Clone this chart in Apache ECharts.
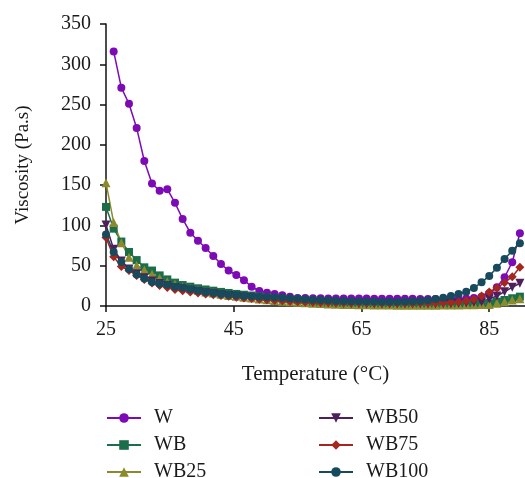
<!DOCTYPE html>
<html>
<head>
<meta charset="utf-8">
<script src="https://cdn.jsdelivr.net/npm/echarts@6/dist/echarts.min.js"></script>
<style>
  html, body { margin: 0; padding: 0; background: #fff; }
  #container { width: 525px; height: 478px; }
</style>
</head>
<body>
<div id="container"></div>
<script>
var dom = document.getElementById('container');
var myChart = echarts.init(dom, null, { renderer: 'canvas' });

// temperature (°C) of each reading
const temps = [
  25.0, 26.2, 27.4, 28.6, 29.8, 31.0, 32.2, 33.4, 34.6, 35.8,
  37.0, 38.2, 39.4, 40.6, 41.8, 43.0, 44.2, 45.4, 46.6, 47.8,
  49.0, 50.2, 51.4, 52.6, 53.8, 55.0, 56.2, 57.4, 58.6, 59.8,
  61.0, 62.2, 63.4, 64.6, 65.8, 67.0, 68.2, 69.4, 70.6, 71.8,
  73.0, 74.2, 75.4, 76.6, 77.8, 79.0, 80.2, 81.4, 82.6, 83.8,
  85.0, 86.2, 87.4, 88.6, 89.8
];

// viscosity (Pa.s)
const W = [
  null, 316, 271, 251, 221, 180, 152, 143, 145, 128,
  108, 91, 81, 72, 62, 52, 44, 38.5, 32, 24,
  18.6, 16.5, 15, 13.3, 11.6, 10, 9.8, 9.6, 9.5, 9.4,
  9.4, 9.3, 9.3, 9.2, 9.2, 9.1, 9.1, 9.0, 9.0, 8.9,
  8.9, 8.8, 8.8, 8.8, 8.8, 8.9, 9.0, 9.3, 10, 11.6,
  15.8, 23.2, 35.7, 54.3, 90.3
];
const WB = [
  123, 96, 80, 67, 57, 48, 44, 38, 33, 29,
  26, 24, 22, 20.5, 19, 17.5, 16.2, 15, 14, 13,
  12, 11, 10, 9, 8.2, 7.4, 6.7, 6, 5.4, 4.8,
  4.3, 3.8, 3.4, 3.0, 2.7, 2.4, 2.2, 2.0, 1.8, 1.7,
  1.6, 1.5, 1.5, 1.5, 1.6, 1.7, 1.9, 2.2, 2.6, 3.0,
  3.4, 5.4, 7.5, 9.6, 11.6
];
const WB25 = [
  153, 103.5, 78.6, 60.5, 50.6, 44.7, 39.4, 34.4, 30, 27,
  24, 21.5, 19.5, 17.5, 16, 14.5, 13, 12, 10.8, 9.8,
  8.8, 7.8, 6.9, 6, 5.2, 4.5, 3.9, 3.4, 3.0, 2.6,
  2.3, 2.0, 1.8, 1.6, 1.4, 1.3, 1.2, 1.1, 1.0, 1.0,
  1.0, 1.0, 1.0, 1.0, 1.1, 1.2, 1.3, 1.5, 1.7, 1.9,
  2.0, 3.4, 5.4, 7.5, 9.0
];
const WB50 = [
  100.6, 70.4, 56, 46, 40, 35, 31, 28, 25.5, 23,
  21, 19.5, 18, 16.5, 15.2, 14, 13, 12, 11, 10,
  9, 8.2, 7.4, 6.7, 6, 5.4, 4.9, 4.4, 4.0, 3.6,
  3.3, 3.0, 2.8, 2.7, 2.6, 2.5, 2.5, 2.4, 2.4, 2.4,
  2.4, 2.4, 2.5, 2.6, 2.7, 2.8, 3.2, 3.7, 4.3, 5.0,
  8.7, 12.4, 17.8, 23.2, 28.2
];
const WB75 = [
  85, 61, 49, 44, 38, 33, 28.5, 25.5, 23, 20.5,
  19, 17.5, 16.2, 15, 14, 13, 12, 11, 10, 9.2,
  8.5, 7.8, 7.2, 6.6, 6.0, 5.5, 5.0, 4.7, 4.4, 4.2,
  4.0, 3.9, 3.8, 3.7, 3.6, 3.6, 3.5, 3.5, 3.5, 3.5,
  3.5, 3.6, 3.7, 3.8, 4.2, 4.6, 5.0, 6.6, 8.3, 12.4,
  17.4, 22.4, 29, 36.4, 48
];
const WB100 = [
  88.6, 67, 54.7, 46, 39, 34, 29.8, 27.7, 26.5, 24,
  22.7, 20.7, 19, 17.4, 16.1, 14.9, 14, 13.3, 12.4, 12,
  11.6, 11.2, 10.8, 10.3, 9.6, 9, 8.4, 7.9, 7.4, 7.0,
  6.6, 6.3, 6.0, 5.8, 5.6, 5.5, 5.4, 5.4, 5.4, 5.5,
  5.8, 6.3, 7.2, 8.7, 10.3, 12.4, 14.9, 17.8, 22.4, 29.4,
  37.3, 47.6, 58.4, 68.7, 77.9
];

const names = ['W', 'WB', 'WB25', 'WB50', 'WB75', 'WB100'];
const values = [W, WB, WB25, WB50, WB75, WB100];
const colors = ['#7d0bb5', '#1c6e4b', '#8b8a2c', '#4f1f5c', '#a3271f', '#184a5e'];
const symbols = ['circle', 'rect', 'triangle', 'triangle', 'diamond', 'circle'];
const rotates = [0, 0, 0, 180, 0, 0];
const sizes = [8, 8, 9, 9, 9, 8];

const font = 'Liberation Serif';

var series = names.map(function (name, k) {
  return {
    name: name,
    type: 'line',
    data: temps.map(function (t, i) { return [t, values[k][i]]; }),
    symbol: symbols[k],
    symbolRotate: rotates[k],
    symbolSize: sizes[k],
    showAllSymbol: true,
    connectNulls: false,
    itemStyle: { color: colors[k] },
    lineStyle: { color: colors[k], width: 1.5 },
    animation: false
  };
});

var legendBase = {
  orient: 'vertical',
  top: 403,
  height: 120,
  itemWidth: 34,
  itemHeight: 12,
  itemGap: 7,
  textStyle: { fontFamily: font, fontSize: 20, lineHeight: 20, color: '#1a1a1a', padding: [0, 0, 0, 8] }
};

var option = {
  backgroundColor: '#fff',
  animation: false,
  grid: { left: 106, right: -2, top: 24, bottom: 172 },
  legend: [
    Object.assign({}, legendBase, { left: 101, data: names.slice(0, 3) }),
    Object.assign({}, legendBase, { left: 313, data: names.slice(3) })
  ],
  xAxis: {
    type: 'value',
    min: 25,
    max: 90.6,
    interval: 20,
    name: 'Temperature (°C)',
    nameLocation: 'middle',
    nameGap: 58,
    nameTextStyle: { fontFamily: font, fontSize: 21, color: '#1a1a1a' },
    axisLine: { lineStyle: { color: '#111', width: 1.5 } },
    axisTick: { show: true, length: 6, lineStyle: { color: '#111', width: 1.5 } },
    axisLabel: { fontFamily: font, fontSize: 20, color: '#1a1a1a', margin: 14, showMaxLabel: false },
    splitLine: { show: false }
  },
  yAxis: {
    type: 'value',
    min: 0,
    max: 350,
    interval: 50,
    name: 'Viscosity (Pa.s)',
    nameLocation: 'middle',
    nameGap: 73,
    nameTextStyle: { fontFamily: font, fontSize: 19, color: '#1a1a1a' },
    axisLine: { show: true, lineStyle: { color: '#111', width: 1.5 } },
    axisTick: { show: true, length: 6, lineStyle: { color: '#111', width: 1.5 } },
    axisLabel: { fontFamily: font, fontSize: 20, color: '#1a1a1a', margin: 15 },
    splitLine: { show: false }
  },
  series: series
};

myChart.setOption(option);
window.addEventListener('resize', myChart.resize);
</script>
</body>
</html>
